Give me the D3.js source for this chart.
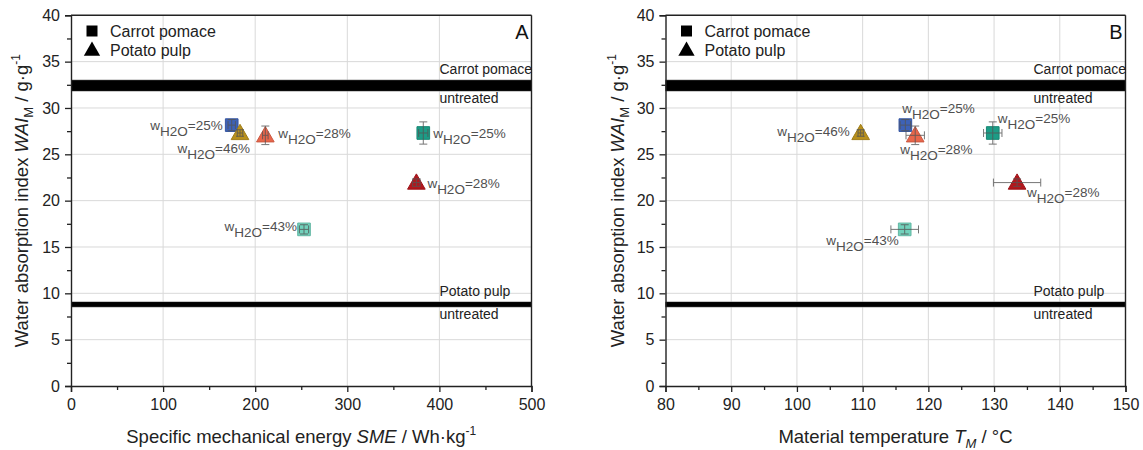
<!DOCTYPE html>
<html>
<head>
<meta charset="utf-8">
<script src="https://cdn.jsdelivr.net/npm/d3@7"></script>
<style>
  html, body { margin: 0; padding: 0; background: #fff; }
  svg { display: block; font-family: "Liberation Sans", Arial, sans-serif; }
</style>
</head>
<body>
<svg id="chart" width="1143" height="450"></svg>
<script>
// ---- data ----
const materials   = ["carrot", "potato", "potato", "carrot", "potato", "carrot"];
const moisture    = [25, 46, 28, 25, 28, 43];                 // w_H2O in %
const pointColors = ["#3d62b8", "#b8901c", "#e8664b", "#1c9c86", "#b3161c", "#72d2bc"];
const sme         = [174.5, 183.5, 211, 382.5, 375, 253];      // Wh/kg
const smeErr      = [4, 3, 3, 5, 4, 5];
const temperature = [116.5, 109.7, 118.0, 129.8, 133.5, 116.4]; // °C
const temperatureErr = [0.8, 0.4, 1.4, 1.4, 3.6, 2.1];
const wai         = [28.15, 27.3, 27.05, 27.3, 21.95, 16.9];    // g/g
const waiErr      = [0.6, 0.35, 1.0, 1.2, 0.4, 0.5];

// untreated reference levels (mean ± sd)
const untreatedNames = ["Carrot pomace", "Potato pulp"];
const untreatedWai   = [32.42, 8.8];
const untreatedErr   = [0.58, 0.26];

const yTicks = [0, 5, 10, 15, 20, 25, 30, 35, 40];
const yMinorTicks = d3.range(2.5, 40, 5);
const smeTicks = [0, 100, 200, 300, 400, 500];
const smeMinorTicks = [50, 150, 250, 350, 450];
const tempTicks = [80, 90, 100, 110, 120, 130, 140, 150];
const tempMinorTicks = [85, 95, 105, 115, 125, 135, 145];

// label placement around each marker: [dx, dy, anchor]
const labelPlaceA = [[-9, 5, "end"], [10, 20, "end"], [13, 3, "start"], [10, 5, "start"], [11, 5, "start"], [-7, 2, "end"]];
const labelPlaceB = [[-3, -12.5, "start"], [-11, 3, "end"], [-15, 19, "start"], [5, -10, "start"], [10, 14, "start"], [-6, 16, "end"]];

const svg = d3.select("#chart");
const plotTop = 15.3, plotBottom = 386;
const y = d3.scaleLinear().domain([0, 40]).range([plotBottom, plotTop]);

function addTitle(text, parts) {
  parts.forEach(p => {
    const t = text.append("tspan").text(p.t);
    if (p.italic) t.attr("font-style", "italic");
    if (p.sub) t.attr("font-size", 13).attr("dy", 5);
    if (p.sup) t.attr("font-size", 12).attr("dy", -8);
    if (p.reset) t.attr("dy", p.reset);
  });
}

function drawPanel(cfg) {
  const x = d3.scaleLinear().domain(cfg.domain).range(cfg.range);
  const [left, right] = cfg.range;
  const g = svg.append("g");

  // grid
  g.append("g").selectAll("line").data(cfg.ticks.slice(1, -1)).join("line")
    .attr("x1", d => x(d)).attr("x2", d => x(d)).attr("y1", plotTop).attr("y2", plotBottom)
    .attr("stroke", "#d9d9d9").attr("stroke-width", 1);
  g.append("g").selectAll("line").data(yTicks.slice(1, -1)).join("line")
    .attr("x1", left).attr("x2", right).attr("y1", d => y(d)).attr("y2", d => y(d))
    .attr("stroke", "#d9d9d9").attr("stroke-width", 1);

  // untreated reference bands
  untreatedNames.forEach((name, i) => {
    const y0 = y(untreatedWai[i] + untreatedErr[i]);
    const y1 = y(untreatedWai[i] - untreatedErr[i]);
    g.append("rect").attr("x", left).attr("width", right - left)
      .attr("y", y0 - 0.6).attr("height", y1 - y0 + 1.2).attr("fill", "#9a9a9a");
    g.append("rect").attr("x", left).attr("width", right - left)
      .attr("y", y0).attr("height", y1 - y0).attr("fill", "#000");
    g.append("text").attr("x", right - 92).attr("y", y0 - 6.5)
      .attr("font-size", 14).attr("fill", "#222").text(name);
    g.append("text").attr("x", right - 92).attr("y", y1 + 12)
      .attr("font-size", 14).attr("fill", "#222").text("untreated");
  });

  // axes
  const xAxis = g.append("g").attr("transform", `translate(0,${plotBottom})`)
    .call(d3.axisBottom(x).tickValues(cfg.ticks).tickSize(6).tickPadding(7).tickFormat(d3.format("d")));
  g.append("g").attr("transform", `translate(0,${plotBottom})`)
    .call(d3.axisBottom(x).tickValues(cfg.minor).tickSize(4).tickFormat(""))
    .call(a => a.select(".domain").remove());
  const yAxis = g.append("g").attr("transform", `translate(${left},0)`)
    .call(d3.axisLeft(y).tickValues(yTicks).tickSize(6).tickPadding(5));
  g.append("g").attr("transform", `translate(${left},0)`)
    .call(d3.axisLeft(y).tickValues(yMinorTicks).tickSize(4).tickFormat(""))
    .call(a => a.select(".domain").remove());
  g.selectAll(".tick line").attr("stroke", "#222").attr("stroke-width", 1.3);
  g.selectAll(".domain").attr("stroke", "#222").attr("stroke-width", 1.4);
  xAxis.selectAll("text").attr("font-size", 16).attr("fill", "#222")
    .attr("font-family", "Liberation Sans, Arial, sans-serif");
  yAxis.selectAll("text").attr("font-size", 16).attr("fill", "#222")
    .attr("font-family", "Liberation Sans, Arial, sans-serif");

  // frame top / right
  g.append("line").attr("x1", left).attr("x2", right).attr("y1", plotTop).attr("y2", plotTop)
    .attr("stroke", "#222").attr("stroke-width", 1.4);
  g.append("line").attr("x1", right).attr("x2", right).attr("y1", plotTop).attr("y2", plotBottom)
    .attr("stroke", "#222").attr("stroke-width", 1.4);

  // markers
  const sym = d3.symbol();
  const shapeOf = m => m === "carrot" ? d3.symbolSquare : d3.symbolTriangle;
  const sizeOf = m => m === "carrot" ? 160 : 135;
  const pts = g.append("g");
  cfg.xs.forEach((xv, i) => {
    const cx = x(xv), cy = y(wai[i]);
    const col = pointColors[i];
    pts.append("path")
      .attr("d", sym.type(shapeOf(materials[i])).size(sizeOf(materials[i]))())
      .attr("transform", `translate(${cx},${cy + (materials[i] === "potato" ? 1.5 : 0)})`)
      .attr("fill", col).attr("stroke", d3.color(col).darker(0.4)).attr("stroke-width", 1);
    // error bars
    const eb = pts.append("g").attr("stroke", "#555").attr("stroke-width", 1).attr("opacity", 0.8);
    const ya = y(wai[i] + waiErr[i]), yb = y(wai[i] - waiErr[i]);
    eb.append("line").attr("x1", cx).attr("x2", cx).attr("y1", ya).attr("y2", yb);
    eb.append("line").attr("x1", cx - 4).attr("x2", cx + 4).attr("y1", ya).attr("y2", ya);
    eb.append("line").attr("x1", cx - 4).attr("x2", cx + 4).attr("y1", yb).attr("y2", yb);
    const xa = x(xv - cfg.errs[i]), xb = x(xv + cfg.errs[i]);
    eb.append("line").attr("x1", xa).attr("x2", xb).attr("y1", cy).attr("y2", cy);
    eb.append("line").attr("x1", xa).attr("x2", xa).attr("y1", cy - 4).attr("y2", cy + 4);
    eb.append("line").attr("x1", xb).attr("x2", xb).attr("y1", cy - 4).attr("y2", cy + 4);

    // moisture label
    const [dx, dy, anchor] = cfg.labels[i];
    const t = pts.append("text").attr("x", cx + dx).attr("y", cy + dy)
      .attr("text-anchor", anchor).attr("font-size", 13.5).attr("fill", "#505050");
    t.append("tspan").text("w");
    t.append("tspan").attr("dy", 6).text("H2O");
    t.append("tspan").attr("dy", -6).text("=" + moisture[i] + "%");
  });

  // legend
  const lx = left + 21;
  g.append("path").attr("d", sym.type(d3.symbolSquare).size(121)())
    .attr("transform", `translate(${lx},31)`).attr("fill", "#000");
  g.append("path").attr("d", sym.type(d3.symbolTriangle).size(115)())
    .attr("transform", `translate(${lx},51)`).attr("fill", "#000");
  g.append("text").attr("x", lx + 18).attr("y", 37).attr("font-size", 16).attr("fill", "#222").text("Carrot pomace");
  g.append("text").attr("x", lx + 18).attr("y", 56).attr("font-size", 16).attr("fill", "#222").text("Potato pulp");

  // panel letter
  g.append("text").attr("x", right - 3).attr("y", 38.5).attr("text-anchor", "end")
    .attr("font-size", 20).attr("fill", "#111").text(cfg.letter);

  // axis titles
  const xt = g.append("text").attr("x", (left + right) / 2).attr("y", 443)
    .attr("text-anchor", "middle").attr("font-size", 18.5).attr("fill", "#222");
  addTitle(xt, cfg.xTitle);
  const yt = g.append("text")
    .attr("transform", `translate(${cfg.yTitleX},${(plotTop + plotBottom) / 2}) rotate(-90)`)
    .attr("text-anchor", "middle").attr("font-size", 18.5).attr("fill", "#222");
  addTitle(yt, [
    { t: "Water absorption index " }, { t: "WAI", italic: true },
    { t: "M", sub: true }, { t: " / g·g", reset: -5 }, { t: "-1", sup: true }
  ]);
}

drawPanel({
  domain: [0, 500], range: [71, 531.5], ticks: smeTicks, minor: smeMinorTicks,
  xs: sme, errs: smeErr, labels: labelPlaceA, letter: "A", yTitleX: 28,
  xTitle: [{ t: "Specific mechanical energy " }, { t: "SME", italic: true }, { t: " / Wh·kg" }, { t: "-1", sup: true }]
});
drawPanel({
  domain: [80, 150], range: [665.5, 1125.5], ticks: tempTicks, minor: tempMinorTicks,
  xs: temperature, errs: temperatureErr, labels: labelPlaceB, letter: "B", yTitleX: 624,
  xTitle: [{ t: "Material temperature " }, { t: "T", italic: true }, { t: "M", italic: true, sub: true }, { t: " / °C", reset: -5 }]
});
</script>
</body>
</html>
